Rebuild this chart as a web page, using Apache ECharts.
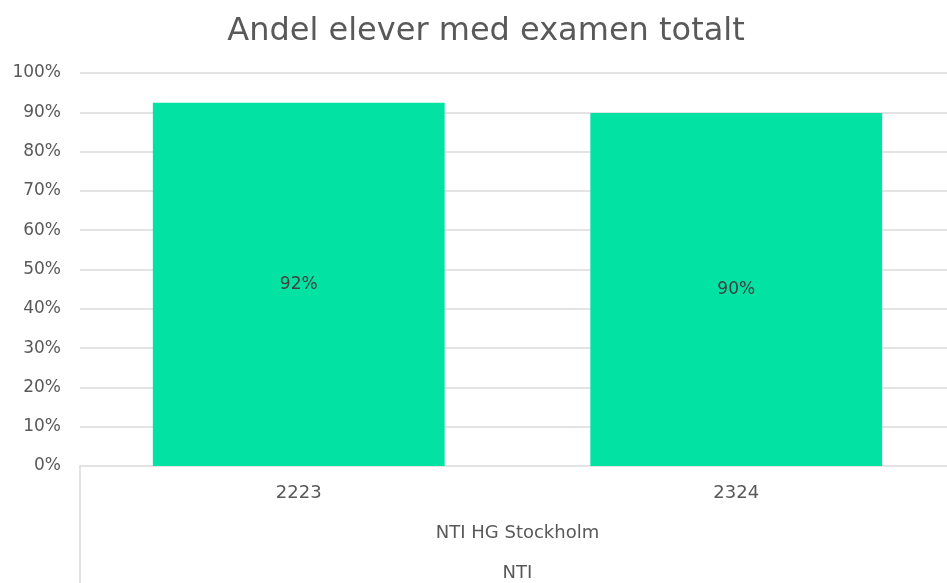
<!DOCTYPE html>
<html>
<head>
<meta charset="utf-8">
<script src="https://cdn.jsdelivr.net/npm/echarts@6/dist/echarts.min.js"></script>
<style>
html,body{margin:0;padding:0;background:#fff;overflow:hidden;}
#c{width:956px;height:583px;}
</style>
</head>
<body>
<div id="c"></div>
<script>
const titleText = 'Andel elever med examen totalt';
const categories = ['2223', '2324'];
const values = [0.924, 0.898];
const valueLabels = ['92%', '90%'];
const groupLevel1 = ['NTI HG Stockholm'];
const groupLevel2 = ['NTI'];

const FONT = 'DejaVu Sans';
const TXT = '#595959';
const GRID = '#e3e3e3';

const chart = echarts.init(document.getElementById('c'), null, {renderer: 'canvas', width: 956, height: 583});
chart.setOption({
  animation: false,
  backgroundColor: '#ffffff',
  title: {
    text: titleText,
    left: 481, top: 11, textAlign: 'center',
    textStyle: {fontFamily: FONT, fontSize: 32, fontWeight: 'normal', color: TXT}
  },
  grid: {left: 80, top: 73, right: 1, height: 393, containLabel: false},
  xAxis: [
    {
      type: 'category', data: categories, position: 'bottom',
      axisLine: {show: true, lineStyle: {color: GRID, width: 2}},
      axisTick: {show: false},
      axisLabel: {margin: 18, fontFamily: FONT, fontSize: 18, color: TXT}
    },
    {
      type: 'category', data: groupLevel1, position: 'bottom', gridIndex: 0,
      axisLine: {show: false},
      axisTick: {show: true, length: 120, lineStyle: {color: GRID, width: 2}},
      axisLabel: {margin: 58, fontFamily: FONT, fontSize: 18, color: TXT}
    },
    {
      type: 'category', data: groupLevel2, position: 'bottom', gridIndex: 0,
      axisLine: {show: false},
      axisTick: {show: false},
      axisLabel: {margin: 98, fontFamily: FONT, fontSize: 18, color: TXT}
    }
  ],
  yAxis: {
    type: 'value', min: 0, max: 1, interval: 0.1,
    axisLine: {show: false}, axisTick: {show: false},
    splitLine: {lineStyle: {color: GRID, width: 2}},
    axisLabel: {
      margin: 19, fontFamily: FONT, fontSize: 17, color: TXT,
      formatter: v => Math.round(v * 100) + '%'
    }
  },
  series: [{
    type: 'bar', xAxisIndex: 0,
    data: values,
    barWidth: '66.7%',
    itemStyle: {color: '#02E2A3'},
    label: {
      show: true, position: 'inside',
      fontFamily: FONT, fontSize: 17, color: '#404040',
      formatter: p => valueLabels[p.dataIndex]
    }
  }]
});
</script>
</body>
</html>
